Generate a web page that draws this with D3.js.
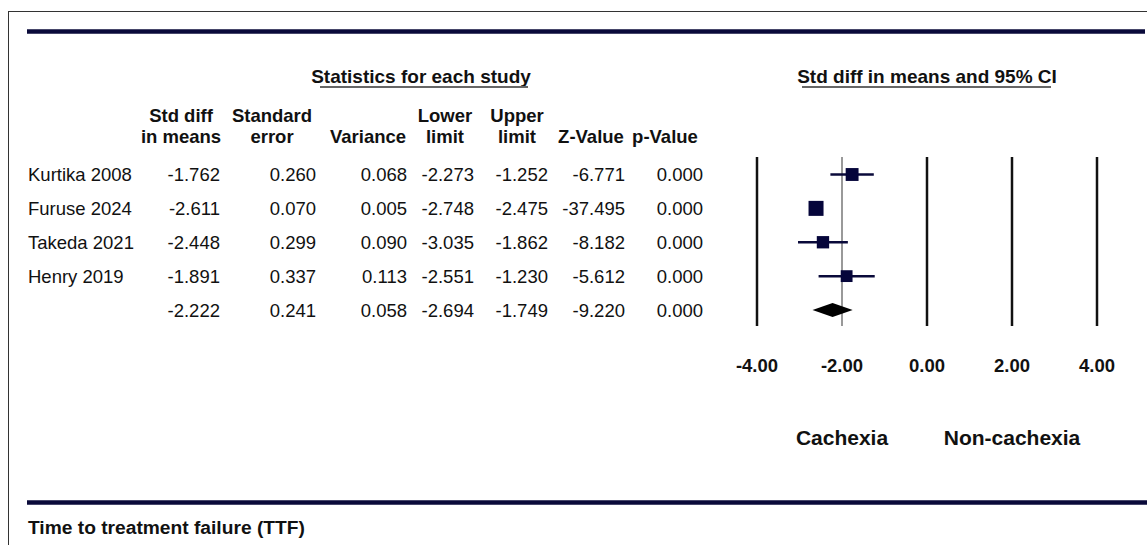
<!DOCTYPE html>
<html>
<head>
<meta charset="utf-8">
<script src="https://cdn.jsdelivr.net/npm/d3@7"></script>
<style>
  body { margin: 0; background: #fff; }
  svg { display: block; }
</style>
</head>
<body>
<svg id="forest" width="1147" height="545"></svg>
<script>
// study data
var studies = ["Kurtika 2008", "Furuse 2024", "Takeda 2021", "Henry 2019"]
var stdDiff = [-1.762, -2.611, -2.448, -1.891]
var stdErr = [0.260, 0.070, 0.299, 0.337]
var variance = [0.068, 0.005, 0.090, 0.113]
var lowerLimit = [-2.273, -2.748, -3.035, -2.551]
var upperLimit = [-1.252, -2.475, -1.862, -1.230]
var zValue = [-6.771, -37.495, -8.182, -5.612]
var pValue = [0.000, 0.000, 0.000, 0.000]
// relative weights (%), sets square size
var weights = [24.3, 33.0, 22.3, 20.4]

// pooled row
var summary = [-2.222, 0.241, 0.058, -2.694, -1.749, -9.220, 0.000]

var axisTicks = [-4, -2, 0, 2, 4]
var sideLabels = [{ label: "Cachexia", at: -2 }, { label: "Non-cachexia", at: 2 }]

var svg = d3.select("#forest")
var font = "'Liberation Sans', Arial, sans-serif"
var ink = "#111"
var navy = "#0a0a3a"
var loc = d3.formatLocale({ decimal: ".", thousands: ",", grouping: [3], currency: ["", ""], minus: "-" })

// frame + heavy rules
svg.append("rect").attr("x", 8.5).attr("y", 11.5).attr("width", 1200).attr("height", 600)
  .attr("fill", "none").attr("stroke", "#333").attr("stroke-width", 1)
svg.append("line").attr("x1", 27).attr("x2", 1145).attr("y1", 31.5).attr("y2", 31.5)
  .attr("stroke", navy).attr("stroke-width", 4.5)
svg.append("line").attr("x1", 27).attr("x2", 1160).attr("y1", 502.5).attr("y2", 502.5)
  .attr("stroke", navy).attr("stroke-width", 4.5)

function txt(x, y, s, anchor, bold, fs) {
  return svg.append("text").attr("x", x).attr("y", y).text(s)
    .attr("text-anchor", anchor || "start")
    .style("font-family", font).style("font-size", (fs || 18.5) + "px")
    .style("font-weight", bold ? "bold" : "normal")
    .attr("fill", ink)
}

// section titles with underline
txt(421, 82.5, "Statistics for each study", "middle", true, 19)
svg.append("line").attr("x1", 320).attr("x2", 528).attr("y1", 87).attr("y2", 87)
  .attr("stroke", "#666").attr("stroke-width", 2)
txt(927, 82.5, "Std diff in means and 95% CI", "middle", true, 19)
svg.append("line").attr("x1", 802).attr("x2", 1051).attr("y1", 87).attr("y2", 87)
  .attr("stroke", "#666").attr("stroke-width", 2)

// columns: right edge of numbers, header centre, header lines
var columns = [
  { right: 220, hx: 181, head: ["Std diff", "in means"], vals: stdDiff },
  { right: 316, hx: 272, head: ["Standard", "error"], vals: stdErr },
  { right: 407, hx: 368, head: ["", "Variance"], vals: variance },
  { right: 474, hx: 445, head: ["Lower", "limit"], vals: lowerLimit },
  { right: 548, hx: 517, head: ["Upper", "limit"], vals: upperLimit },
  { right: 625, hx: 591, head: ["", "Z-Value"], vals: zValue },
  { right: 703, hx: 665, head: ["", "p-Value"], vals: pValue }
]

var rowY = d3.scaleLinear().domain([0, 4]).range([174.5, 310])
var fmt = loc.format(".3f")

columns.forEach(function(c, ci) {
  if (c.head[0]) txt(c.hx, 121.5, c.head[0], "middle", true)
  txt(c.hx, 143, c.head[1], "middle", true)
  c.vals.forEach(function(v, i) { txt(c.right, rowY(i) + 6.5, fmt(v), "end") })
  txt(c.right, rowY(4) + 6.5, fmt(summary[ci]), "end")
})

studies.forEach(function(s, i) { txt(28, rowY(i) + 6.5, s, "start") })

// forest plot
var x = d3.scaleLinear().domain([-4, 4]).range([757, 1097])
var size = d3.scaleSqrt().domain([0, 33]).range([0, 15])

axisTicks.forEach(function(t) {
  var ref = t === -2
  svg.append("line").attr("x1", x(t)).attr("x2", x(t)).attr("y1", 157).attr("y2", 326)
    .attr("stroke", ref ? "#777" : "#111").attr("stroke-width", ref ? 1.5 : 2.5)
  txt(x(t), 371.5, loc.format(".2f")(t), "middle", true)
})

sideLabels.forEach(function(d) { txt(x(d.at), 445, d.label, "middle", true, 21) })

var rows = svg.selectAll(".study").data(studies).enter().append("g").attr("class", "study")

rows.append("line")
  .attr("x1", function(d, i) { return x(lowerLimit[i]) })
  .attr("x2", function(d, i) { return x(upperLimit[i]) })
  .attr("y1", function(d, i) { return rowY(i) })
  .attr("y2", function(d, i) { return rowY(i) })
  .attr("stroke", navy).attr("stroke-width", 2.5)

rows.append("rect")
  .attr("x", function(d, i) { return x(stdDiff[i]) - size(weights[i]) / 2 })
  .attr("y", function(d, i) { return rowY(i) - size(weights[i]) / 2 })
  .attr("width", function(d, i) { return size(weights[i]) })
  .attr("height", function(d, i) { return size(weights[i]) })
  .attr("fill", "#05053a")

// pooled diamond
var dy = rowY(4)
svg.append("path")
  .attr("d", "M" + x(summary[3]) + "," + dy + "L" + x(summary[0]) + "," + (dy - 7) +
    "L" + x(summary[4]) + "," + dy + "L" + x(summary[0]) + "," + (dy + 7) + "Z")
  .attr("fill", "#000")

txt(28, 534, "Time to treatment failure (TTF)", "start", true, 19.2)
</script>
</body>
</html>
